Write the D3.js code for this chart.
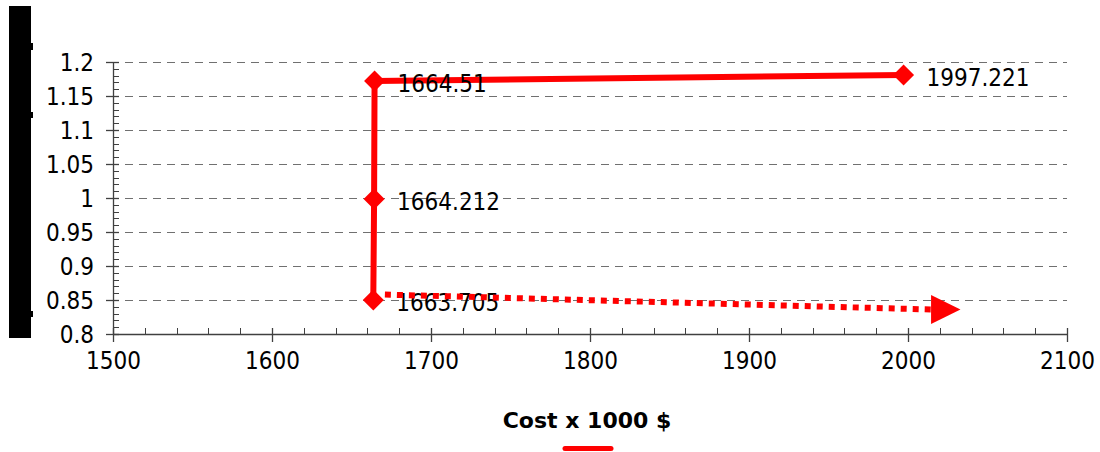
<!DOCTYPE html>
<html>
<head>
<meta charset="utf-8">
<script src="https://cdn.jsdelivr.net/npm/d3@7"></script>
<style>
  html, body { margin: 0; padding: 0; background: #fff; }
  svg { display: block; }
  text { font-family: "DejaVu Sans Condensed", "DejaVu Sans", sans-serif; font-stretch: condensed; }
  text.title { font-family: "DejaVu Sans", sans-serif; font-stretch: normal; }
</style>
</head>
<body>
<svg id="chart" width="1100" height="452"></svg>
<script>
// ---- data ----
const costs = [1663.705, 1664.212, 1664.51, 1997.221];
const values = [0.85, 0.9985, 1.172, 1.181];
const pointLabels = ["1663.705", "1664.212", "1664.51", "1997.221"];
const xTicks = [1500, 1600, 1700, 1800, 1900, 2000, 2100];
const yTicks = [0.8, 0.85, 0.9, 0.95, 1, 1.05, 1.1, 1.15, 1.2];
const xTitle = "Cost x 1000 $";
// dotted trend arrow (start, end of shaft, tip) in data units
const arrowX = [1671, 2014.5, 2033];
const arrowY = [0.858, 0.836];

const svg = d3.select("#chart");
const red = "#ff0000";

const x = d3.scaleLinear().domain([1500, 2100]).range([113, 1067]);
const y = d3.scaleLinear().domain([0.8, 1.2]).range([334, 62]);

// black bar at left (covered y-axis title)
svg.append("rect").attr("x", 9).attr("y", 6).attr("width", 22).attr("height", 332).attr("fill", "#000");
[[43, 7], [112, 6], [311, 6]].forEach(([yy, h]) => {
  svg.append("rect").attr("x", 31).attr("y", yy).attr("width", 2).attr("height", h).attr("fill", "#000");
});

// gridlines
svg.append("g").selectAll("line").data(yTicks.filter(d => d > 0.8)).join("line")
  .attr("x1", x(1500) + 12).attr("x2", x(2100))
  .attr("y1", d => Math.round(y(d)) + 0.5).attr("y2", d => Math.round(y(d)) + 0.5)
  .attr("stroke", "#707070").attr("stroke-width", 1.2).attr("stroke-dasharray", "8,6");

const axisColor = "#404040";
// minor ticks
const xMinor = d3.range(1500, 2100.1, 20).filter(v => v % 100 !== 0);
svg.append("g").selectAll("line").data(xMinor).join("line")
  .attr("x1", d => Math.round(x(d)) + 0.5).attr("x2", d => Math.round(x(d)) + 0.5)
  .attr("y1", 334).attr("y2", 328).attr("stroke", axisColor).attr("stroke-width", 1);
const yMinor = d3.range(80, 120.5, 1).map(v => v / 100).filter(v => Math.round(v * 100) % 5 !== 0);
svg.append("g").selectAll("line").data(yMinor).join("line")
  .attr("y1", d => Math.round(y(d)) + 0.5).attr("y2", d => Math.round(y(d)) + 0.5)
  .attr("x1", 113).attr("x2", 119).attr("stroke", axisColor).attr("stroke-width", 1);

// axes
const xAxis = d3.axisBottom(x).tickValues(xTicks).tickFormat(d3.format("d")).tickSizeInner(8).tickSizeOuter(0).tickPadding(22);
const gx = svg.append("g").attr("transform", "translate(0,334)").call(xAxis);
gx.select(".domain").attr("stroke", axisColor).attr("stroke-width", 1.3);
gx.selectAll(".tick line").attr("stroke", axisColor).attr("stroke-width", 1.3).attr("y1", -6);
gx.selectAll("text").attr("font-size", 24).attr("fill", "#000").attr("dy", "0.2em");

const yAxis = d3.axisLeft(y).tickValues(yTicks).tickFormat(d => String(d)).tickSizeInner(7).tickSizeOuter(0).tickPadding(12);
const gy = svg.append("g").attr("transform", "translate(113,0)").call(yAxis);
gy.select(".domain").attr("stroke", axisColor).attr("stroke-width", 1.3);
gy.selectAll(".tick line").attr("stroke", axisColor).attr("stroke-width", 1.3).attr("x2", 6).attr("x1", -7);
gy.selectAll("text").attr("font-size", 24).attr("fill", "#000").attr("dy", "0.35em");

// series line
const pts = costs.map((c, i) => [c, values[i]]);
svg.append("path").datum(pts)
  .attr("d", d3.line().x(d => x(d[0])).y(d => y(d[1])))
  .attr("fill", "none").attr("stroke", red).attr("stroke-width", 6).attr("stroke-linejoin", "round");

// diamonds
const r = 10.5;
svg.append("g").selectAll("path").data(pts).join("path")
  .attr("transform", d => `translate(${x(d[0])},${y(d[1])})`)
  .attr("d", `M0,${-r}L${r},0L0,${r}L${-r},0Z`).attr("fill", red);

// data labels
svg.append("g").selectAll("text").data(pts).join("text")
  .attr("x", d => x(d[0]) + 23).attr("y", d => y(d[1]) + 11)
  .attr("font-size", 24).attr("fill", "#000")
  .text((d, i) => pointLabels[i]);

// dotted arrow
svg.append("line")
  .attr("x1", x(arrowX[0])).attr("y1", y(arrowY[0]))
  .attr("x2", x(arrowX[1])).attr("y2", y(arrowY[1]))
  .attr("stroke", red).attr("stroke-width", 6).attr("stroke-dasharray", "6,6");
const ax = x(arrowX[1]), ay = y(arrowY[1]), tip = x(arrowX[2]);
svg.append("path").attr("d", `M${ax},${ay - 14.5}L${tip},${ay}L${ax},${ay + 14.5}Z`).attr("fill", red);

// x title
svg.append("text").attr("class", "title").attr("x", 587).attr("y", 428).attr("text-anchor", "middle")
  .attr("font-size", 22).attr("font-weight", "bold").attr("fill", "#000").text(xTitle);

// legend swatch
svg.append("line").attr("x1", 565).attr("x2", 611).attr("y1", 448.5).attr("y2", 448.5)
  .attr("stroke", red).attr("stroke-width", 5).attr("stroke-linecap", "round");
</script>
</body>
</html>
